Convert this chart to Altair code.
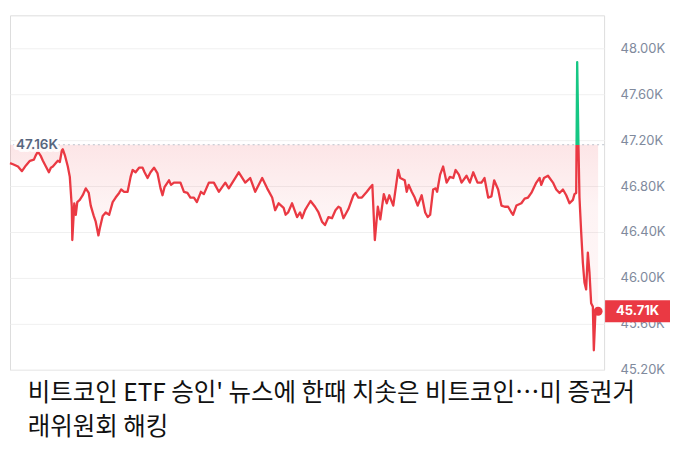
import altair as alt
import pandas as pd

# ---- data (time index, price in thousands USD) ----
T = [7, 10, 15, 19, 23, 27, 31, 33, 35, 38, 40, 43, 46, 48, 50, 53, 55, 57, 59, 60,
     62, 65, 67, 69, 69.5, 71.5, 73, 74.5, 77, 80, 83, 86, 88, 91, 93, 95.7, 97.3, 100, 103, 106.5, 110,
     113, 116.5, 118.5, 121.5, 125, 128, 130, 133, 136.5, 140, 142, 145, 148, 151.5, 155, 158, 160, 162,
     166.5, 168.5, 171.5, 178, 181.5, 185, 188, 191.5, 194.5, 198.5, 201.5, 206.5, 211.5,
     216.5, 223, 226.5, 236.5, 243, 248, 253, 260, 265, 270, 273, 276.5, 281.5, 283.5, 286, 290, 295,
     298, 300, 303, 305, 308.5,
     313, 316.5, 320, 323, 326.5, 330, 333.5, 336.5, 338.5, 341.5, 346.5, 351.5, 353.5, 356.5, 360, 365,
     368.5, 370.5, 373, 376, 378.5, 382, 385, 387.5, 391.5, 396.5, 398.5, 403, 405, 407, 410,
     413, 416, 420, 423.5, 426, 428.5, 431.5, 434, 435.5, 438.5, 441.5, 445, 448.3, 451.7, 454, 457.3,
     460, 465, 468.3, 471.7, 476, 480, 483, 486.7, 490, 492.7, 496.7, 500, 503.3, 506.7, 510,
     511.7, 515, 520, 523.3, 526.7, 530, 535, 538.3, 540, 542.7, 546.7, 551.7, 555, 558.3, 561.7, 565,
     568.3, 571.7, 573.3, 575,
     576, 577.3, 578.3, 580, 581.7, 583.3, 585, 586.7, 588.3, 590, 591.7, 592.7, 594.3, 596, 597]

V = [47.00, 46.99, 46.97, 46.93, 46.98, 47.02, 47.03, 47.07, 47.10, 47.06, 47.02, 46.97, 46.92, 46.96,
     46.97, 47.00, 47.02, 47.01, 47.11, 47.12,
     47.07, 46.97, 46.88, 46.62, 46.33, 46.65, 46.55, 46.66, 46.68, 46.72, 46.78, 46.74, 46.63, 46.54,
     46.49, 46.37, 46.44, 46.54, 46.57, 46.55, 46.66,
     46.70, 46.74, 46.77, 46.75, 46.75, 46.88, 46.94, 46.92, 46.96, 46.96, 46.92, 46.87, 46.92, 46.96,
     46.91, 46.78, 46.72, 46.79, 46.85, 46.81, 46.83, 46.83, 46.75, 46.74, 46.70, 46.70, 46.66, 46.75,
     46.73, 46.83, 46.83,
     46.75, 46.83, 46.78, 46.92, 46.83, 46.87, 46.75, 46.87, 46.78, 46.70, 46.59, 46.65, 46.61, 46.55,
     46.57, 46.65, 46.53, 46.57, 46.52, 46.59, 46.62, 46.67,
     46.62, 46.57, 46.49, 46.46, 46.53, 46.52, 46.59, 46.62, 46.61, 46.52, 46.60, 46.72, 46.74, 46.70,
     46.70, 46.75, 46.79, 46.81, 46.33, 46.62, 46.51, 46.73, 46.65, 46.72, 46.63, 46.94, 46.87, 46.85,
     46.75, 46.81, 46.75,
     46.70, 46.63, 46.72, 46.57, 46.53, 46.55, 46.77, 46.78, 46.75, 46.90, 46.97, 46.83, 46.88, 46.87,
     46.94, 46.90, 46.83, 46.89, 46.83, 46.92, 46.83, 46.83, 46.87, 46.70, 46.71, 46.85, 46.77, 46.63,
     46.62, 46.62, 46.57,
     46.55, 46.63, 46.65, 46.69, 46.70, 46.74, 46.83, 46.87, 46.81, 46.87, 46.89, 46.83, 46.77, 46.74,
     46.77, 46.72, 46.65, 46.68, 46.73, 46.74,
     47.88, 47.14, 46.70, 46.40, 46.13, 45.96, 45.90, 46.22, 46.05, 45.78, 45.75, 45.37, 45.70, 45.73, 45.71]

BASE = 47.16
TICKS = [45.2, 45.6, 46.0, 46.4, 46.8, 47.2, 47.6, 48.0]
CAPTION = ["비트코인 ETF 승인' 뉴스에 한때 치솟은 비트코인…미 증권거", "래위원회 해킹"]

RED = "#ea3943"
GREEN = "#16c784"

df = pd.DataFrame({"t": T, "v": V})
base_df = pd.DataFrame({"v": [BASE], "lbl": [f"{BASE:.2f}K"]})
last_df = pd.DataFrame({"t": [T[-1]], "v": [V[-1]], "lbl": [f"{V[-1]:.2f}K"]})

yscale = alt.Scale(domain=[45.2, 48.287], nice=False, zero=False)
yaxis = alt.Axis(orient="right", values=TICKS, labelExpr="format(datum.value, '.2f') + 'K'",
                 labelColor="#808a9d", labelFont="Inter", labelFontSize=13, labelPadding=16,
                 domain=False, ticks=False, grid=True, gridColor="#f0f0f0", title=None)
xenc = alt.X("t:Q", axis=None, scale=alt.Scale(domain=[7, 603], nice=False, zero=False))


def yenc(field):
    return alt.Y(field, scale=yscale, axis=yaxis)


frac = (max(V) - BASE) / (max(V) - min(V))
line_grad = alt.Gradient(
    gradient="linear",
    stops=[alt.GradientStop(color=GREEN, offset=0),
           alt.GradientStop(color=GREEN, offset=frac),
           alt.GradientStop(color=RED, offset=frac),
           alt.GradientStop(color=RED, offset=1)],
    x1=0, x2=0, y1=0, y2=1)
area_grad = alt.Gradient(
    gradient="linear",
    stops=[alt.GradientStop(color="rgba(234,57,67,0.13)", offset=0),
           alt.GradientStop(color="rgba(234,57,67,0.06)", offset=0.3),
           alt.GradientStop(color="rgba(234,57,67,0.04)", offset=1)],
    x1=0, x2=0, y1=0, y2=1)

area = alt.Chart(df).transform_calculate(
    vc=f"min(datum.v, {BASE})"
).mark_area(fill=area_grad).encode(
    x=xenc, y=yenc("vc:Q"), y2=alt.datum(BASE)
)

base_rule = alt.Chart(base_df).mark_rule(
    color="#bcc3cd", strokeDash=[2, 3], strokeWidth=1
).encode(y=yenc("v:Q"))

line = alt.Chart(df).mark_line(stroke=line_grad, strokeWidth=2.3, strokeJoin="round").encode(
    x=xenc, y=yenc("v:Q")
)

base_halo = alt.Chart(base_df).mark_text(
    align="left", baseline="middle", font="Inter", fontSize=13.5, fontWeight=600,
    color="white", stroke="white", strokeWidth=6, strokeOpacity=0.85, strokeJoin="round"
).encode(x=alt.value(6), y=yenc("v:Q"), text="lbl:N")

base_text = alt.Chart(base_df).mark_text(
    align="left", baseline="middle", font="Inter", fontSize=13.5, fontWeight=600, color="#58667e"
).encode(x=alt.value(6), y=yenc("v:Q"), text="lbl:N")

dot = alt.Chart(last_df).mark_circle(size=80, color=RED, opacity=1).encode(
    x=xenc, y=yenc("v:Q")
)

# price tag: a 65x22 rectangle symbol
tag = alt.Chart(last_df).mark_point(
    shape="M-1,-0.3385L1,-0.3385L1,0.3385L-1,0.3385Z", size=4225,
    filled=True, color=RED, opacity=1, strokeWidth=0
).encode(x=alt.value(628.5), y=yenc("v:Q"))

tag_text = alt.Chart(last_df).mark_text(
    align="center", baseline="middle", font="Inter", fontSize=13, fontWeight="bold", color="white"
).encode(x=alt.value(628.5), y=yenc("v:Q"), text="lbl:N")

chart = alt.layer(area, base_rule, line, base_halo, base_text, dot, tag, tag_text).properties(
    width=595, height=355,
    padding={"left": 0, "top": 7, "right": 0, "bottom": 0},
    title=alt.TitleParams(
        text=CAPTION, orient="bottom", anchor="start", font="Noto Sans CJK KR",
        fontSize=24.5, fontWeight="normal", color="#111111", lineHeight=34,
        baseline="top", offset=5, dx=19
    )
).configure_view(stroke="#ececec", strokeWidth=1).configure(background="white")

chart.save("out.html", embed_options={"renderer": "svg", "actions": False})
